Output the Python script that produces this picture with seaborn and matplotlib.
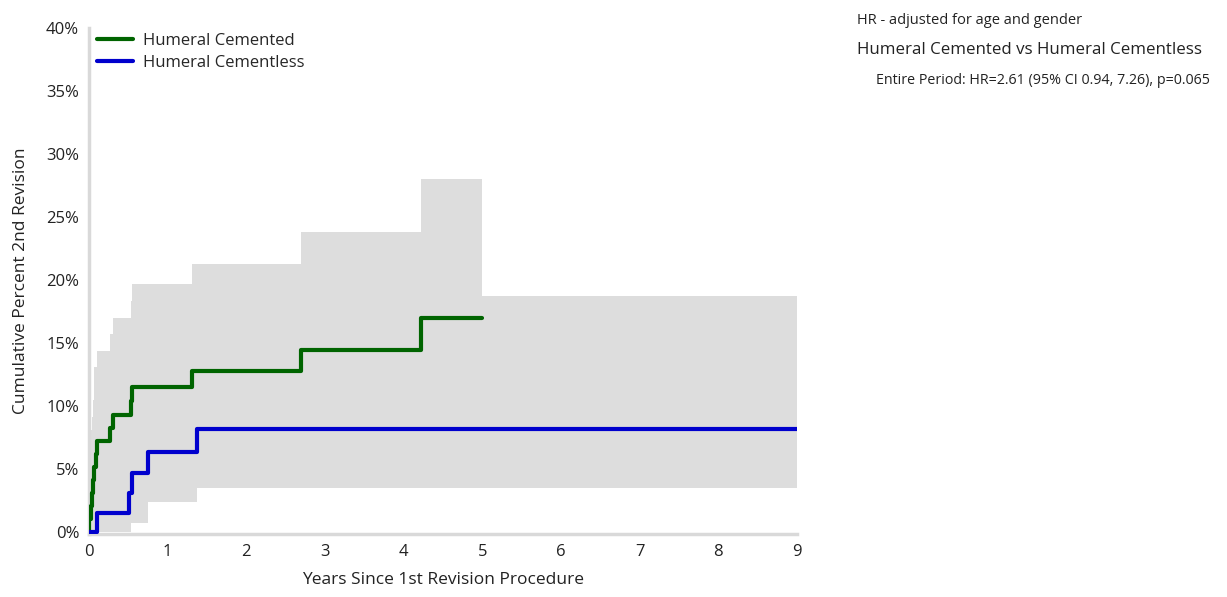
import pandas as pd
import numpy as np
import matplotlib
matplotlib.use("Agg")
import matplotlib.pyplot as plt
import seaborn as sns

# step data (years, cumulative percent)
cemented_t = [0, 0.005, 0.02, 0.035, 0.05, 0.065, 0.085, 0.105, 0.27, 0.31, 0.53, 0.55, 1.31, 2.70, 4.22, 5.0]
cemented_pct = [0, 1.03, 2.06, 3.09, 4.12, 5.15, 6.19, 7.2, 8.25, 9.3, 10.4, 11.5, 12.75, 14.45, 17.0, 17.0]

cementless_t = [0, 0.1, 0.51, 0.55, 0.745, 1.377, 9.0]
cementless_pct = [0, 1.5, 3.1, 4.7, 6.35, 8.2, 8.2]

# confidence band envelope (grey)
band_t = [0, 0.012, 0.025, 0.04, 0.055, 0.07, 0.085, 0.105, 0.27, 0.31, 0.53, 0.55, 0.745, 1.31, 1.377, 2.70, 4.22, 5.0, 9.0]
band_hi = [4.0, 6.5, 8.1, 9.1, 10.46, 13.1, 13.1, 14.35, 15.7, 17.0, 18.35, 19.7, 19.7, 21.3, 21.3, 23.8, 28.0, 18.7, 18.7]
band_lo = [0, 0, 0, 0, 0, 0, 0, 0, 0, 0, 0.72, 0.72, 2.43, 2.43, 3.49, 3.49, 3.49, 3.49, 3.49]

labels = ["Humeral Cemented", "Humeral Cementless"]
colors = ["#006400", "#0000CD"]

sns.set_style("white")
plt.rcParams['font.family'] = ['Open Sans', 'DejaVu Sans']

df = pd.concat([
    pd.DataFrame({'years': cemented_t, 'pct': cemented_pct, 'group': labels[0]}),
    pd.DataFrame({'years': cementless_t, 'pct': cementless_pct, 'group': labels[1]}),
], ignore_index=True)

fig = plt.figure(figsize=(12.27, 5.97), dpi=100)
ax = fig.add_axes([0.0725, 0.1055, 0.577, 0.8475])

ax.fill_between(band_t, band_lo, band_hi, step='post', color='#dddddd', lw=0, zorder=1)

sns.lineplot(data=df, x='years', y='pct', hue='group', palette=colors,
             estimator=None, sort=False, drawstyle='steps-post', lw=3,
             ax=ax, zorder=3)

ax.set_xlim(0, 9)
ax.set_ylim(-0.15, 40)
ax.set_xticks(range(0, 10))
ax.set_yticks(range(0, 41, 5))
ax.set_yticklabels([f"{v}%" for v in range(0, 41, 5)])
ax.tick_params(axis='both', labelsize=12, colors='#d0d0d0', labelcolor='#222222',
               length=4, width=1, direction='out')
ax.tick_params(axis='y', pad=3)

for s in ['top', 'right']:
    ax.spines[s].set_visible(False)
for s in ['left', 'bottom']:
    ax.spines[s].set_color('#d9d9d9')
    ax.spines[s].set_linewidth(2.5)

ax.set_xlabel('Years Since 1st Revision Procedure', fontsize=12.5, color='#222222', labelpad=8)
ax.set_ylabel('Cumulative Percent 2nd Revision', fontsize=12.5, color='#222222', labelpad=12)

leg = ax.legend(loc='upper left', bbox_to_anchor=(0.011, 0.99), frameon=False, fontsize=12,
                handlelength=2.2, handletextpad=0.55, labelspacing=0.35, borderpad=0, borderaxespad=0)
leg.set_title(None)

fig.text(857 / 1227, 1 - 20 / 597, 'HR - adjusted for age and gender', fontsize=10.5, va='center', color='#222222')
fig.text(857 / 1227, 1 - 50 / 597, 'Humeral Cemented vs Humeral Cementless', fontsize=12.2, va='center', color='#222222')
fig.text(876 / 1227, 1 - 80 / 597, 'Entire Period: HR=2.61 (95% CI 0.94, 7.26), p=0.065', fontsize=10.3, va='center', color='#222222')

fig.savefig('out.png', dpi=100)
